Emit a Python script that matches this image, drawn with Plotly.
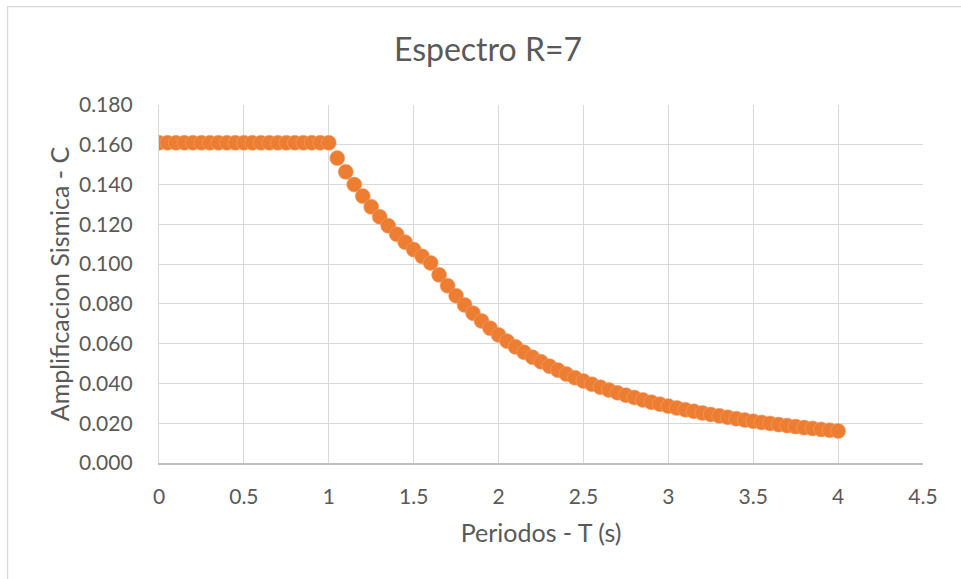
import plotly.graph_objects as go

# Periods T (s) and seismic amplification C for the R=7 spectrum
periodos = [
    0.00, 0.05, 0.10, 0.15, 0.20, 0.25, 0.30, 0.35, 0.40, 0.45,
    0.50, 0.55, 0.60, 0.65, 0.70, 0.75, 0.80, 0.85, 0.90, 0.95,
    1.00, 1.05, 1.10, 1.15, 1.20, 1.25, 1.30, 1.35, 1.40, 1.45,
    1.50, 1.55, 1.60, 1.65, 1.70, 1.75, 1.80, 1.85, 1.90, 1.95,
    2.00, 2.05, 2.10, 2.15, 2.20, 2.25, 2.30, 2.35, 2.40, 2.45,
    2.50, 2.55, 2.60, 2.65, 2.70, 2.75, 2.80, 2.85, 2.90, 2.95,
    3.00, 3.05, 3.10, 3.15, 3.20, 3.25, 3.30, 3.35, 3.40, 3.45,
    3.50, 3.55, 3.60, 3.65, 3.70, 3.75, 3.80, 3.85, 3.90, 3.95,
    4.00,
]
amplificacion = [
    0.1610, 0.1610, 0.1610, 0.1610, 0.1610, 0.1610, 0.1610, 0.1610, 0.1610, 0.1610,
    0.1610, 0.1610, 0.1610, 0.1610, 0.1610, 0.1610, 0.1610, 0.1610, 0.1610, 0.1610,
    0.1610, 0.1533, 0.1464, 0.1400, 0.1342, 0.1288, 0.1238, 0.1193, 0.1150, 0.1110,
    0.1073, 0.1039, 0.1006, 0.0946, 0.0891, 0.0841, 0.0795, 0.0753, 0.0714, 0.0678,
    0.0644, 0.0613, 0.0584, 0.0557, 0.0532, 0.0509, 0.0487, 0.0467, 0.0447, 0.0429,
    0.0412, 0.0396, 0.0381, 0.0367, 0.0353, 0.0341, 0.0329, 0.0317, 0.0306, 0.0296,
    0.0286, 0.0277, 0.0268, 0.0260, 0.0252, 0.0244, 0.0237, 0.0230, 0.0223, 0.0216,
    0.0210, 0.0204, 0.0199, 0.0193, 0.0188, 0.0183, 0.0178, 0.0174, 0.0169, 0.0165,
    0.0161,
]

x_ticks = [0, 0.5, 1, 1.5, 2, 2.5, 3, 3.5, 4, 4.5]
x_tick_text = ["0", "0.5", "1", "1.5", "2", "2.5", "3", "3.5", "4", "4.5"]
y_ticks = [0.0, 0.02, 0.04, 0.06, 0.08, 0.10, 0.12, 0.14, 0.16, 0.18]
y_tick_text = ["0.000", "0.020", "0.040", "0.060", "0.080",
               "0.100", "0.120", "0.140", "0.160", "0.180"]

FONT = "Lato, 'Open Sans', sans-serif"
TEXT = "#595959"
GRID = "#D9D9D9"
ORANGE = "#ED7D31"

fig = go.Figure()
fig.add_trace(go.Scatter(
    x=periodos,
    y=amplificacion,
    mode="markers",
    marker=dict(size=15, color=ORANGE, line=dict(width=0.6, color="#F0A070")),
    showlegend=False,
    hoverinfo="x+y",
))

fig.update_layout(
    width=961,
    height=579,
    margin=dict(l=158.5, r=38.3, t=105, b=115.5),
    paper_bgcolor="white",
    plot_bgcolor="white",
    font=dict(family=FONT, color=TEXT, size=16),
    title=dict(
        text="Espectro R=7",
        x=488 / 961, xref="container", xanchor="center",
        y=1 - 50 / 579, yref="container", yanchor="middle",
        font=dict(family=FONT, size=32, color=TEXT),
    ),
    xaxis=dict(
        range=[0, 4.5],
        tickvals=x_ticks,
        ticktext=x_tick_text,
        showgrid=True, gridcolor=GRID, gridwidth=1.3,
        zeroline=False,
        showline=True, linecolor="#BFBFBF", linewidth=1.5,
        ticks="", ticklabelstandoff=14,
        tickfont=dict(family=FONT, size=21, color=TEXT),
        title=dict(text="Periodos - T (s)", standoff=18,
                   font=dict(family=FONT, size=25, color=TEXT)),
    ),
    yaxis=dict(
        range=[0, 0.18],
        tickvals=y_ticks,
        ticktext=y_tick_text,
        showgrid=True, gridcolor=GRID, gridwidth=1.3,
        zeroline=False,
        showline=True, linecolor="#D9D9D9", linewidth=1.3,
        ticks="", ticklabelstandoff=21,
        tickfont=dict(family=FONT, size=21, color=TEXT),
        title=dict(text="Amplificacion Sismica - C", standoff=2,
                   font=dict(family=FONT, size=25, color=TEXT)),
    ),
    shapes=[
        # light outer frame of the chart area
        dict(type="rect", xref="paper", yref="paper",
             x0=(7 - 158.5) / 764.2, x1=1.2,
             y0=-0.4, y1=(463.5 - 6.5) / 358.5,
             line=dict(color="#D9D9D9", width=1.3),
             fillcolor="rgba(0,0,0,0)", layer="below"),
    ],
)

fig.write_html("out.html")
